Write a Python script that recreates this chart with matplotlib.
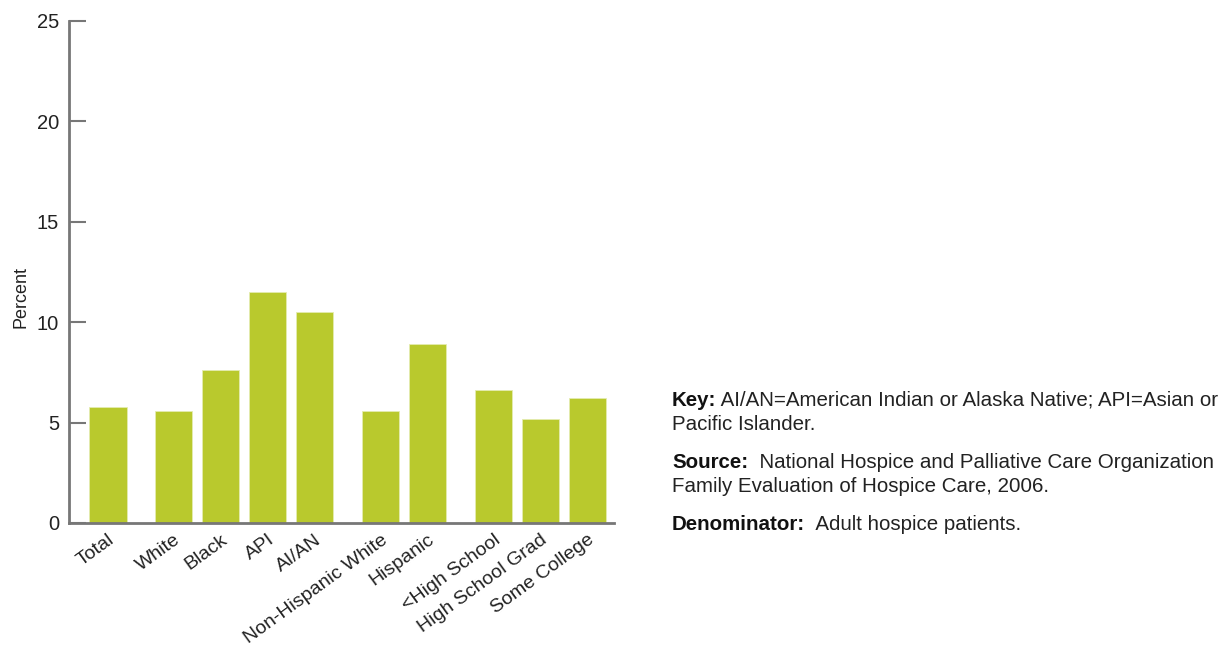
import matplotlib
matplotlib.use("Agg")
import matplotlib.pyplot as plt

# Datos
categorias = ["Total", "White", "Black", "API", "AI/AN", "Non-Hispanic White",
              "Hispanic", "<High School", "High School Grad", "Some College"]
posiciones = [0, 1.4, 2.4, 3.4, 4.4, 5.8, 6.8, 8.2, 9.2, 10.2]
valores = [5.8, 5.6, 7.6, 11.5, 10.5, 5.6, 8.9, 6.6, 5.2, 6.2]

plt.rcParams['font.family'] = ['Liberation Sans', 'DejaVu Sans']

fig = plt.figure(figsize=(12.27, 6.52), dpi=100)
ax = fig.add_axes([0.0562, 0.1979, 0.4442, 0.7699])

ax.bar(posiciones, valores, width=0.79, color='#b9c92d', edgecolor='#e4ecb0', linewidth=0.6)

ax.set_xlim(-0.83, 10.77)
ax.set_ylim(0, 25)
ax.set_yticks([0, 5, 10, 15, 20, 25])
ax.set_xticks(posiciones)
ax.set_xticklabels(categorias, rotation=36, ha='right', rotation_mode='anchor',
                   fontsize=14, color='#222222')
ax.tick_params(axis='x', length=0, pad=6)
ax.tick_params(axis='y', direction='in', length=12, width=1.5, color='#777777',
               labelsize=14.5, pad=7, labelcolor='#222222')
ax.set_ylabel('Percent', fontsize=13, color='#222222')
ax.yaxis.set_label_coords(-0.073, 0.45)

for lado in ['top', 'right']:
    ax.spines[lado].set_visible(False)
for lado in ['left', 'bottom']:
    ax.spines[lado].set_color('#777777')
    ax.spines[lado].set_linewidth(2)

# Notas
x0 = 672 / 1227
fs = 14.8
def nota(y, negrita, resto):
    t = fig.text(x0, 1 - y / 652, negrita, fontsize=fs, fontweight='bold', va='center', color='#111111')
    fig.canvas.draw()
    bb = t.get_window_extent()
    fig.text(bb.x1 / fig.bbox.width, 1 - y / 652, resto, fontsize=fs, va='center', color='#222222')

nota(400, "Key:", " AI/AN=American Indian or Alaska Native; API=Asian or")
fig.text(x0, 1 - 424 / 652, "Pacific Islander.", fontsize=fs, va='center', color='#222222')
nota(463, "Source:", "  National Hospice and Palliative Care Organization")
fig.text(x0, 1 - 487 / 652, "Family Evaluation of Hospice Care, 2006.", fontsize=fs, va='center', color='#222222')
nota(525, "Denominator:", "  Adult hospice patients.")

fig.savefig('out.png', dpi=100)
